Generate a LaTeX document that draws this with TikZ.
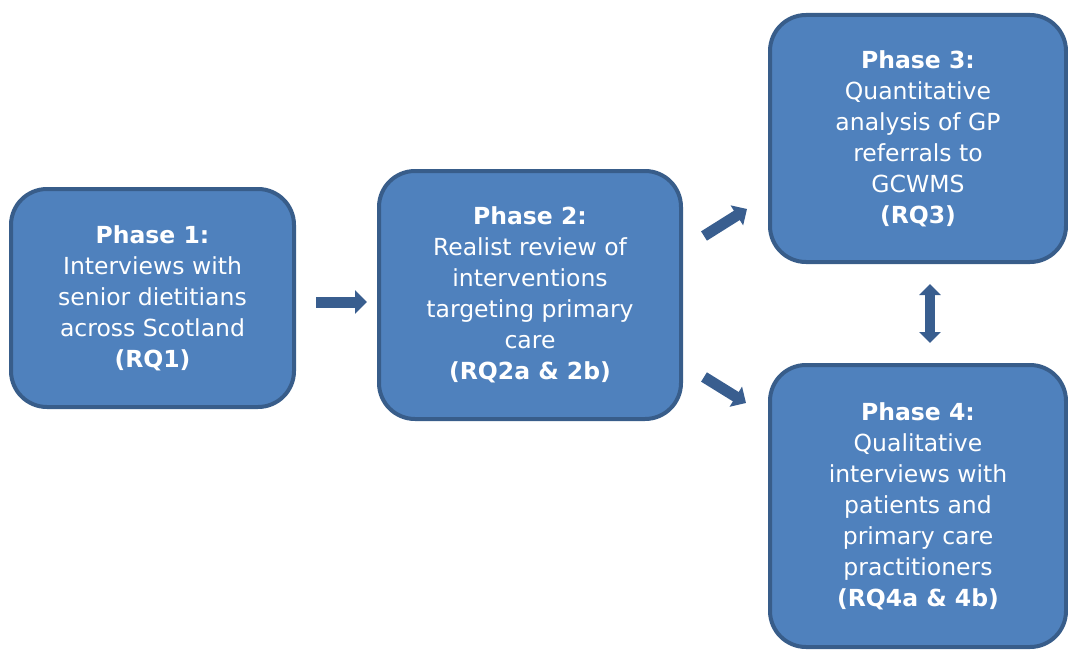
\documentclass[tikz,border=0pt]{standalone}
\usepackage{fontspec}
\setmainfont{DejaVu Sans}
\usetikzlibrary{arrows.meta}

\begin{document}
\begin{tikzpicture}[x=1pt, y=-1pt]
    \tikzset{
      phase/.style = {draw=phaseedge, fill=phasefill, line width=4pt,
                      rounded corners=36pt, text=white, align=center,
                      font=\fontsize{23.5}{31}\selectfont},
      flow/.style  = {draw=arrowblue, line width=11pt,
                      -{Triangle[length=12pt, width=23pt]}},
      both/.style  = {draw=arrowblue, line width=10pt,
                      {Triangle[length=11pt, width=21pt]}-{Triangle[length=11pt, width=21pt]}}
    }
    \definecolor{phasefill}{HTML}{4F81BD}
    \definecolor{phaseedge}{HTML}{385D8A}
    \definecolor{arrowblue}{HTML}{395E8F}

    \useasboundingbox (0,0) rectangle (1068,650);
    \clip (0,0) rectangle (1068,650);

    % Boxes
    \node[phase, minimum width=283pt, minimum height=218pt] (p1) at (152.5,298)
      {\textbf{Phase 1:}\\Interviews with\\senior dietitians\\across Scotland\\\textbf{(RQ1)}};
    \node[phase, minimum width=302pt, minimum height=248pt] (p2) at (530,295)
      {\textbf{Phase 2:}\\Realist review of\\interventions\\targeting primary\\care\\\textbf{(RQ2a \& 2b)}};
    \node[phase, minimum width=296pt, minimum height=247pt] (p3) at (918,138.5)
      {\textbf{Phase 3:}\\Quantitative\\analysis of GP\\referrals to\\GCWMS\\\textbf{(RQ3)}};
    \node[phase, minimum width=296pt, minimum height=282pt] (p4) at (918,506)
      {\textbf{Phase 4:}\\Qualitative\\interviews with\\patients and\\primary care\\practitioners\\\textbf{(RQ4a \& 4b)}};

    % Arrows
    \draw[flow] ([shift={(20,4)}]p1.east) -- ([shift={(-10,7)}]p2.west);
    \draw[flow] ([shift={(21,-59)}]p2.east) -- ([shift={(-21,-55)}]p3.south west);
    \draw[flow] ([shift={(21,82)}]p2.east) -- ([shift={(-22,40)}]p4.north west);
    \draw[both] ([shift={(12,20)}]p3.south) -- ([shift={(12,-20)}]p4.north);

\end{tikzpicture}
\end{document}
